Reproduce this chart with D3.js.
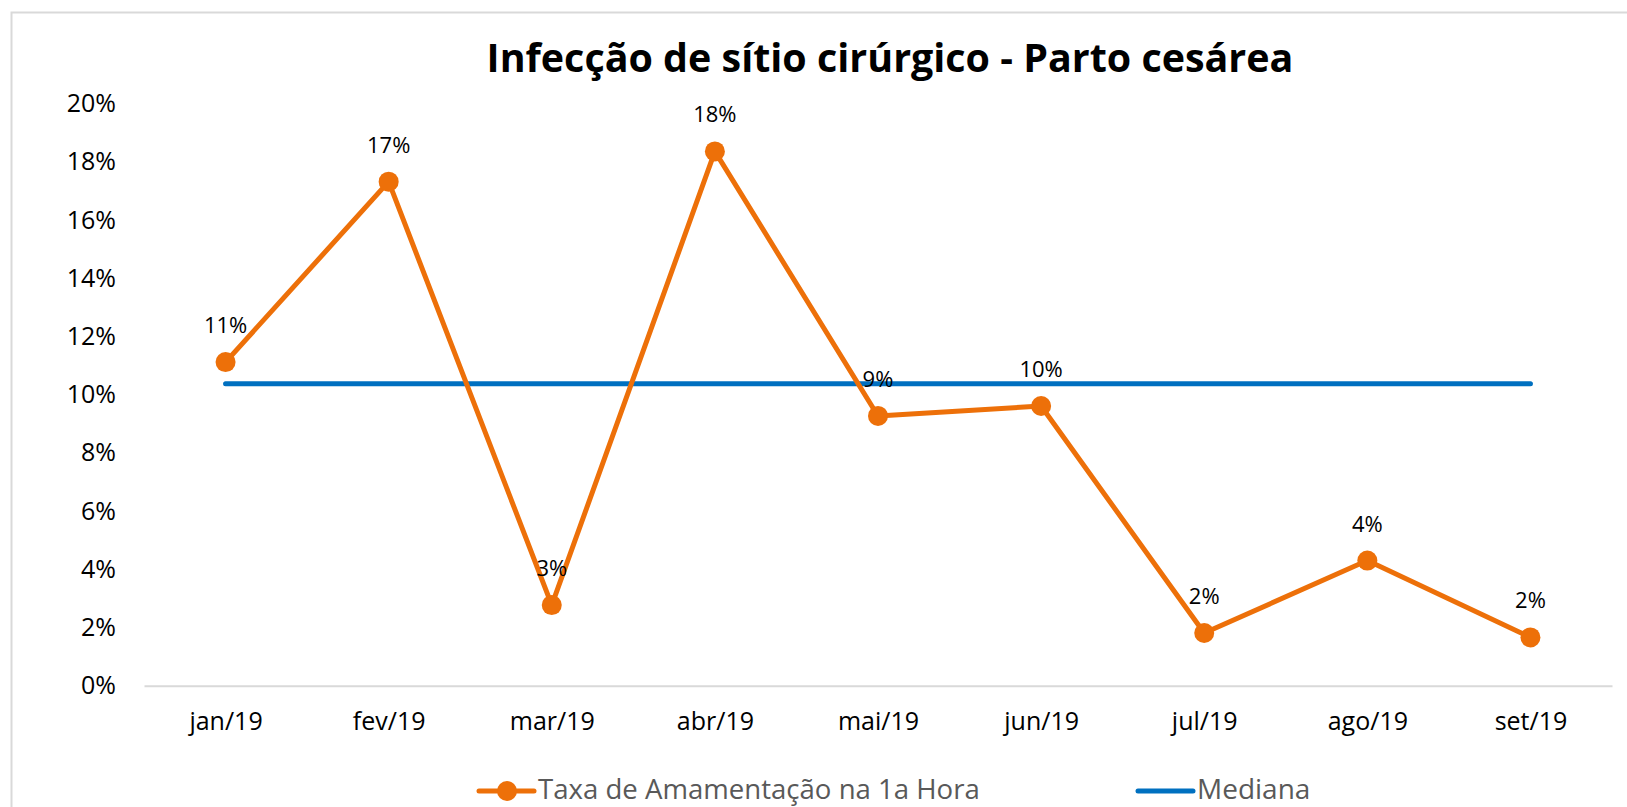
<!DOCTYPE html>
<html>
<head>
    <meta charset="utf-8">
    <title>Infecção de sítio cirúrgico - Parto cesárea</title>
    <style>
        body { margin: 0; background: #fff; }
        svg text { font-family: "Open Sans", "Noto Sans", sans-serif; }
    </style>
</head>
<body>
<div class="plot_container"></div>
<script src="https://d3js.org/d3.v7.min.js" charset="utf-8"></script>
<script type="text/javascript">
    // data
    var months = ["jan/19", "fev/19", "mar/19", "abr/19", "mai/19", "jun/19", "jul/19", "ago/19", "set/19"];
    var taxa = [0.1112, 0.1732, 0.0277, 0.1836, 0.0927, 0.0961, 0.0181, 0.0430, 0.0166];
    var mediana = [0.1038, 0.1038, 0.1038, 0.1038, 0.1038, 0.1038, 0.1038, 0.1038, 0.1038];
    var y_ticks = [0, 0.02, 0.04, 0.06, 0.08, 0.10, 0.12, 0.14, 0.16, 0.18, 0.20];
    var title_text = "Infecção de sítio cirúrgico - Parto cesárea";
    var legend_names = ["Taxa de Amamentação na 1a Hora", "Mediana"];

    var width = 1627;
    var height = 807;
    var orange = "#ED7009";
    var blue = "#0070C0";

    var svg = d3.select(".plot_container").append("svg")
            .attr("width", width)
            .attr("height", height);

    // chart border (only top/left visible)
    svg.append("rect")
            .attr("x", 11.5).attr("y", 12.5)
            .attr("width", 1650).attr("height", 830)
            .attr("fill", "none")
            .attr("stroke", "#d9d9d9")
            .attr("stroke-width", 2);

    var x = d3.scalePoint().domain(months).range([144, 1612]).padding(0.5);
    var y = d3.scaleLinear().domain([0, 0.2]).range([685.7, 103.7]);
    var pct = d3.format(".0%");

    // title, fitted to the width it has in the picture
    var title = svg.append("text")
            .attr("x", 890).attr("y", 72)
            .attr("text-anchor", "middle")
            .attr("font-weight", "bold")
            .attr("font-size", 33)
            .attr("fill", "#000")
            .text(title_text);
    var tw = title.node().getComputedTextLength();
    title.attr("font-size", 33 * 807 / tw);

    // y axis
    var yAxis = svg.append("g")
            .attr("transform", "translate(116,0)")
            .call(d3.axisLeft(y).tickValues(y_ticks).tickSize(0).tickPadding(0).tickFormat(pct));
    yAxis.select(".domain").remove();
    yAxis.selectAll("text")
            .attr("font-size", 25)
            .attr("fill", "#000")
            .style("font-family", "'Open Sans', sans-serif");

    // x axis
    var xAxis = svg.append("g")
            .attr("transform", "translate(0," + y(0) + ")")
            .call(d3.axisBottom(x).tickSize(0).tickPadding(27));
    xAxis.select(".domain")
            .attr("stroke", "#d9d9d9")
            .attr("stroke-width", 2);
    xAxis.selectAll("text")
            .attr("font-size", 25)
            .attr("fill", "#000")
            .style("font-family", "'Open Sans', sans-serif");

    // mediana
    var line = d3.line()
            .x(function(d, i){ return x(months[i]); })
            .y(function(d){ return y(d); });

    svg.append("path")
            .datum(mediana)
            .attr("d", line)
            .attr("fill", "none")
            .attr("stroke", blue)
            .attr("stroke-width", 5)
            .attr("stroke-linecap", "round");

    // taxa
    svg.append("path")
            .datum(taxa)
            .attr("d", line)
            .attr("fill", "none")
            .attr("stroke", orange)
            .attr("stroke-width", 5)
            .attr("stroke-linejoin", "round");

    svg.selectAll(".marker")
            .data(taxa)
            .enter()
            .append("circle")
            .attr("class", "marker")
            .attr("cx", function(d, i){ return x(months[i]); })
            .attr("cy", function(d){ return y(d); })
            .attr("r", 10)
            .attr("fill", orange);

    svg.selectAll(".label")
            .data(taxa)
            .enter()
            .append("text")
            .attr("class", "label")
            .attr("x", function(d, i){ return x(months[i]); })
            .attr("y", function(d){ return y(d) - 29; })
            .attr("text-anchor", "middle")
            .attr("font-size", 22)
            .attr("fill", "#000")
            .text(function(d){ return pct(d); });

    // legend
    var legend_x = [479, 1138];
    var legend_w = [442, 150];
    var legend_y = 791;
    legend_names.forEach(function(name, i){
        var c = i == 0 ? orange : blue;
        svg.append("line")
                .attr("x1", legend_x[i]).attr("x2", legend_x[i] + 55)
                .attr("y1", legend_y).attr("y2", legend_y)
                .attr("stroke", c)
                .attr("stroke-width", 5)
                .attr("stroke-linecap", "round");
        if (i == 0) {
            svg.append("circle")
                    .attr("cx", legend_x[i] + 28).attr("cy", legend_y)
                    .attr("r", 10)
                    .attr("fill", c);
        }
        var t = svg.append("text")
                .attr("x", legend_x[i] + 59)
                .attr("y", legend_y + 8)
                .attr("font-size", 28)
                .attr("fill", "#595959")
                .text(name);
        if (i == 0) {
            var lw = t.node().getComputedTextLength();
            t.attr("font-size", 28 * legend_w[0] / lw);
        }
    });
</script>
</body>
</html>
